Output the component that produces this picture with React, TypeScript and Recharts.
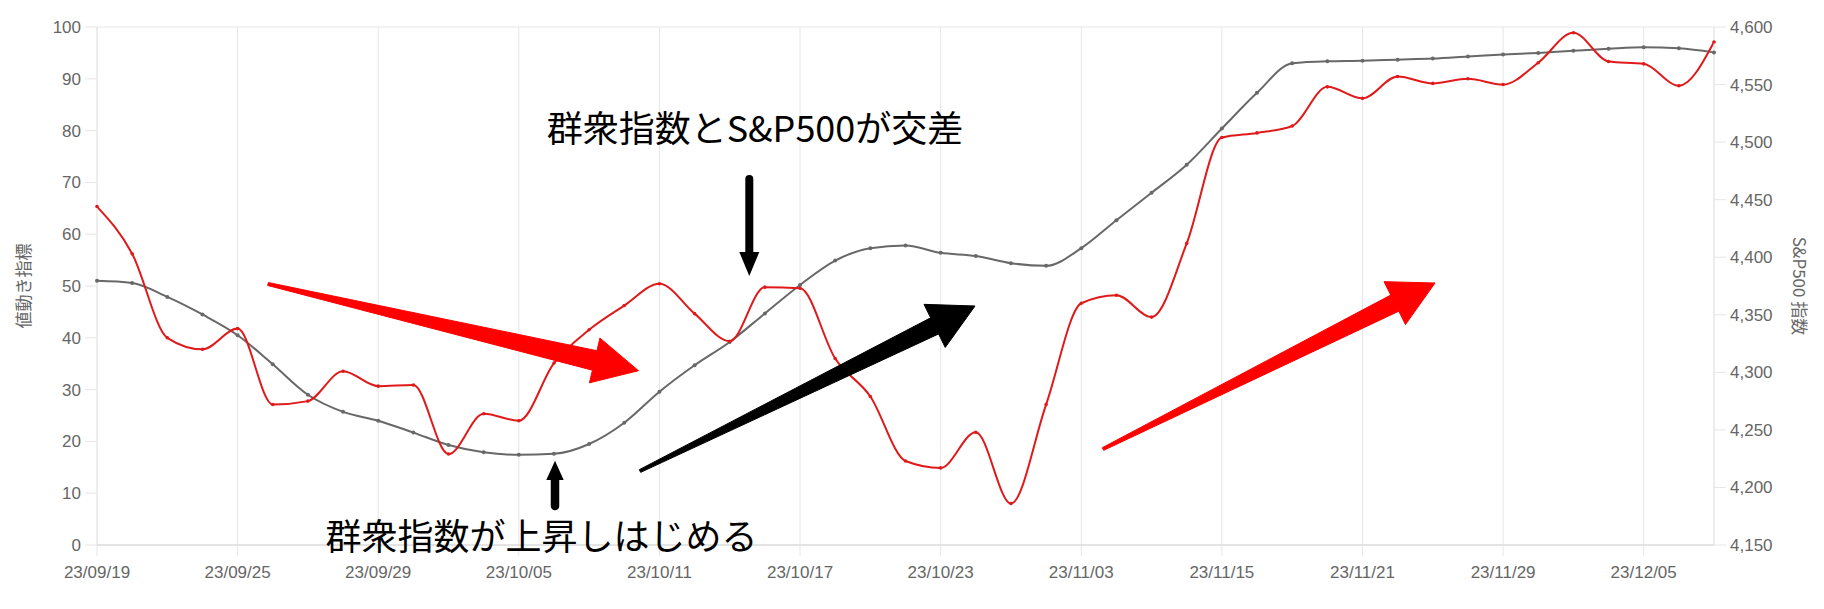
import { LineChart, Line, XAxis, YAxis, CartesianGrid } from "recharts";

// trading days shown on the category axis (every 4th one is labelled)
const dates = [
  "23/09/19", "23/09/20", "23/09/21", "23/09/22", "23/09/25", "23/09/26", "23/09/27", "23/09/28",
  "23/09/29", "23/10/02", "23/10/03", "23/10/04", "23/10/05", "23/10/06", "23/10/09", "23/10/10",
  "23/10/11", "23/10/12", "23/10/13", "23/10/16", "23/10/17", "23/10/18", "23/10/19", "23/10/20",
  "23/10/23", "23/10/25", "23/10/27", "23/10/31", "23/11/03", "23/11/06", "23/11/08", "23/11/10",
  "23/11/15", "23/11/16", "23/11/17", "23/11/20", "23/11/21", "23/11/22", "23/11/24", "23/11/28",
  "23/11/29", "23/11/30", "23/12/01", "23/12/04", "23/12/05", "23/12/06", "23/12/07",
];

// 群衆指数 (left axis, 0-100)
const crowdIndex = [
  51.0, 50.6, 47.9, 44.5, 40.5, 34.9, 29.0, 25.7, 24.0, 21.7, 19.3, 17.9, 17.4, 17.6, 19.5, 23.6,
  29.6, 34.7, 39.2, 44.7, 50.2, 54.9, 57.3, 57.8, 56.4, 55.8, 54.4, 53.9, 57.3, 62.7, 68.0, 73.4,
  80.4, 87.3, 93.0, 93.4, 93.5, 93.7, 93.9, 94.3, 94.7, 95.0, 95.4, 95.8, 96.1, 95.9, 95.1,
];

// S&P500 (right axis)
const sp500 = [
  4444, 4403, 4330, 4320, 4338, 4272, 4275, 4301, 4288, 4289, 4229, 4264, 4258, 4308, 4337, 4358,
  4377, 4351, 4327, 4374, 4373, 4312, 4279, 4223, 4217, 4248, 4186, 4272, 4360, 4367, 4348, 4412,
  4504, 4508, 4514, 4548, 4538, 4557, 4551, 4555, 4550, 4569, 4595, 4570, 4568, 4549, 4587,
];

const leftTicks = [0, 10, 20, 30, 40, 50, 60, 70, 80, 90, 100];
const rightTicks = [4150, 4200, 4250, 4300, 4350, 4400, 4450, 4500, 4550, 4600];

const data = dates.map((d, i) => ({ date: d, crowd: crowdIndex[i], sp: sp500[i] }));

const tickStyle = { fill: "#666", fontSize: 17, fontFamily: "Liberation Sans, Arial, sans-serif" };
const gridColor = "#e6e6e6";
const jpFont = "'Noto Sans CJK JP', sans-serif";

// tapered hand-drawn style arrow, tail is a thin point
function arrowPoints(
  tail: [number, number], tip: [number, number],
  tailHalf: number, shaftHalf: number, headLen: number, headHalf: number,
) {
  const dx = tip[0] - tail[0];
  const dy = tip[1] - tail[1];
  const len = Math.hypot(dx, dy);
  const ux = dx / len, uy = dy / len;
  const nx = -uy, ny = ux;
  const p = (s: number, o: number) => `${tail[0] + ux * s + nx * o},${tail[1] + uy * s + ny * o}`;
  const b = len - headLen;
  return [p(0, tailHalf), p(b, shaftHalf), p(b, headHalf), p(len, 0), p(b, -headHalf), p(b, -shaftHalf), p(0, -tailHalf)].join(" ");
}

function LeftTitle(props: any) {
  const vb = props.viewBox || { y: 27, height: 518 };
  const cx = 22;
  const cy = vb.y + vb.height / 2;
  return (
    <text x={cx} y={cy} transform={`rotate(-90 ${cx} ${cy})`} textAnchor="middle" dominantBaseline="central"
      fill="#666" fontSize={17} fontFamily={jpFont}>
      値動き指標
    </text>
  );
}

function RightTitle(props: any) {
  const vb = props.viewBox || { y: 27, height: 518 };
  const cx = 1800;
  const cy = vb.y + vb.height / 2;
  return (
    <text x={cx} y={cy} transform={`rotate(90 ${cx} ${cy})`} textAnchor="middle" dominantBaseline="central"
      fill="#666" fontSize={17} fontFamily={jpFont}>
      S&amp;P500 指数
    </text>
  );
}

export default function App() {
  return (
    <div style={{ position: "absolute", left: 0, top: 0, width: 1824, height: 609, background: "#fff" }}>
      <LineChart width={1824} height={609} data={data} margin={{ top: 27, right: 0, bottom: 0, left: 0 }}>
        <CartesianGrid stroke={gridColor} />
        <XAxis
          dataKey="date"
          interval={3}
          height={64}
          tick={tickStyle}
          tickSize={11}
          tickMargin={10}
          tickLine={{ stroke: gridColor }}
          axisLine={{ stroke: "#d4d4d4" }}
        />
        <YAxis
          yAxisId="left"
          domain={[0, 100]}
          ticks={leftTicks}
          width={97}
          tick={tickStyle}
          tickSize={12}
          tickMargin={4}
          tickLine={{ stroke: gridColor }}
          axisLine={{ stroke: gridColor }}
          label={<LeftTitle />}
        />
        <YAxis
          yAxisId="right"
          orientation="right"
          domain={[4150, 4600]}
          ticks={rightTicks}
          width={110}
          tick={tickStyle}
          tickSize={12}
          tickMargin={4}
          tickLine={{ stroke: gridColor }}
          axisLine={{ stroke: gridColor }}
          tickFormatter={(v: number) => v.toLocaleString("en-US")}
          label={<RightTitle />}
        />
        <Line
          yAxisId="left"
          type="monotone"
          dataKey="crowd"
          stroke="#686868"
          strokeWidth={2}
          dot={{ r: 2, fill: "#686868", strokeWidth: 0 }}
          isAnimationActive={false}
        />
        <Line
          yAxisId="right"
          type="monotone"
          dataKey="sp"
          stroke="#e01a1a"
          strokeWidth={2}
          dot={{ r: 1.8, fill: "#e01a1a", strokeWidth: 0 }}
          isAnimationActive={false}
        />
      </LineChart>

      {/* hand drawn annotations laid over the chart */}
      <svg width={1824} height={609} style={{ position: "absolute", left: 0, top: 0, pointerEvents: "none" }}>
        <polygon points={arrowPoints([268, 284], [638.5, 370.7], 1.5, 10, 45, 23)} fill="#ff0000" stroke="#ff0000" strokeLinejoin="round" />
        <polygon points={arrowPoints([640, 471], [975, 306], 1.5, 9, 45, 24)} fill="#000" stroke="#000" strokeLinejoin="round" />
        <polygon points={arrowPoints([1103, 449], [1435, 283], 1.5, 9, 45, 24)} fill="#ff0000" stroke="#ff0000" strokeLinejoin="round" />

        <line x1={749.3} y1={179} x2={749.3} y2={254} stroke="#000" strokeWidth={8} strokeLinecap="round" />
        <polygon points="739.3,252 759.3,252 749.3,276" fill="#000" />

        <line x1={555} y1={479} x2={555} y2={506} stroke="#000" strokeWidth={8.5} strokeLinecap="round" />
        <polygon points="546.3,480 563.7,480 555,460.7" fill="#000" />

        <text x={755} y={142} textAnchor="middle" fontSize={36} fontFamily={jpFont} fill="#000">
          群衆指数とS&amp;P500が交差
        </text>
        <text x={541.5} y={550} textAnchor="middle" fontSize={36} fontFamily={jpFont} fill="#000">
          群衆指数が上昇しはじめる
        </text>
      </svg>
    </div>
  );
}
